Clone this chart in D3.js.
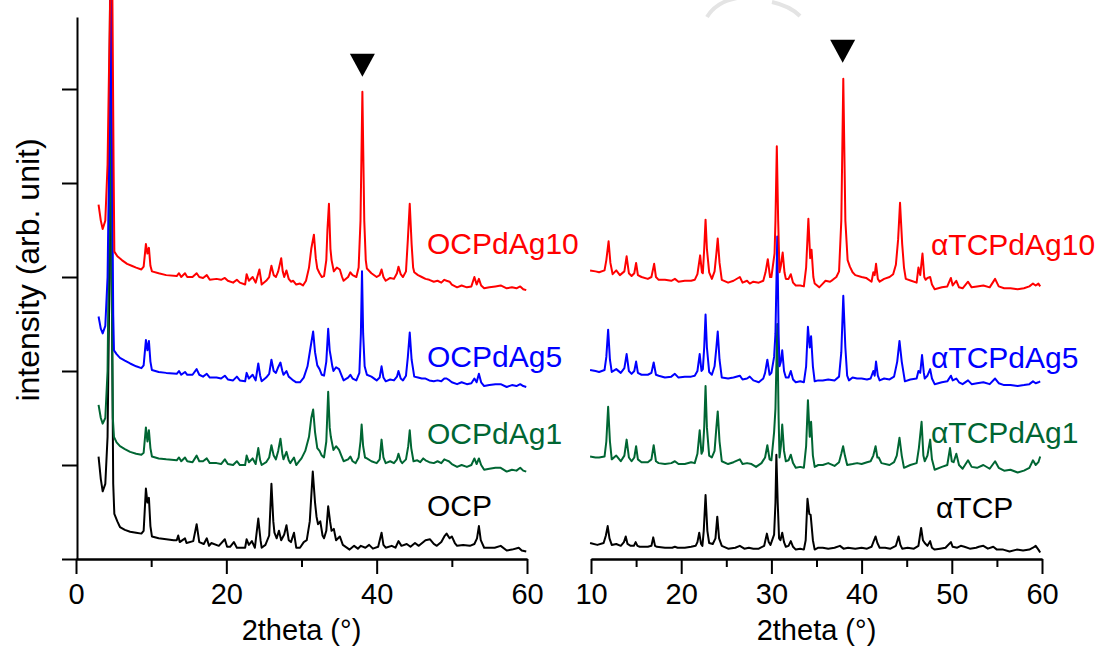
<!DOCTYPE html>
<html>
<head>
<meta charset="utf-8">
<script src="https://cdn.jsdelivr.net/npm/d3@7"></script>
<style>
  html, body { margin: 0; padding: 0; background: #fff; }
  svg { display: block; }
  text { font-family: "Liberation Sans", Arial, sans-serif; }
</style>
</head>
<body>
<svg id="chart" width="1104" height="647"></svg>
<script>
// ---------------- DATA (2theta in degrees, intensity in arb. units, stacked as displayed) ----------------
const seriesNamesLeft = ["OCP", "OCPdAg1", "OCPdAg5", "OCPdAg10"];
const seriesNamesRight = ["αTCP", "αTCPdAg1", "αTCPdAg5", "αTCPdAg10"];

const OCP = [[3.0,109],[3.3,85],[3.55,72],[3.9,80],[4.2,130],[4.45,300],[4.6,650],[4.75,300],[4.95,80],[5.1,48],[5.5,40],[5.85,34],[6.5,31],[7.2,29],[8.0,28],[8.7,27],[9.0,30],[9.3,75],[9.5,60],[9.7,65],[9.9,35],[10.1,24],[11,22],[12,21],[13.0,20],[13.4,20],[13.6,25],[13.8,18],[14.5,22],[14.7,17],[15.6,19],[16.05,37],[16.4,18],[17.0,16],[17.4,22],[17.7,14],[18.0,17],[19.0,14],[19.8,21],[20.1,13],[20.5,13],[21.0,18],[21.4,12],[22.5,12],[22.7,21],[23.0,15],[23.4,19],[23.8,12],[24.25,43],[24.55,20],[24.7,12],[25.2,15],[25.7,25],[26.0,80],[26.25,40],[26.4,28],[26.7,22],[27.0,30],[27.3,20],[27.7,26],[28.0,36],[28.3,20],[28.6,18],[29.0,28],[29.3,12],[29.8,12],[30.3,18],[30.7,20],[31.1,40],[31.5,93],[31.8,60],[32.0,45],[32.2,37],[32.5,40],[32.8,25],[33.0,22],[33.3,30],[33.55,56],[33.8,40],[34.0,30],[34.3,32],[34.6,20],[35.1,24],[35.5,15],[36.4,10],[37.0,14],[37.5,11],[37.9,14],[38.5,12],[39.0,15],[39.5,11],[40.2,13],[40.65,28],[40.9,15],[41.2,12],[42.0,14],[42.5,12],[42.9,19],[43.3,14],[44.0,16],[44.5,13],[45.1,17],[45.6,14],[46.5,20],[47.1,21],[47.6,16],[48.0,14],[48.6,18],[49.0,24],[49.3,27],[49.7,22],[50.0,24],[50.4,17],[50.7,14],[51.5,15],[52.4,14],[53.0,16],[53.35,22],[53.6,35],[53.85,20],[54.3,12],[55.0,12],[55.7,12],[56.5,14],[57.3,9],[58.0,10],[58.9,12],[59.3,9],[59.9,8]];

const OCPdAg1 = [[3.0,164],[3.3,150],[3.55,144],[3.9,150],[4.2,200],[4.4,350],[4.55,650],[4.7,350],[4.9,150],[5.05,130],[5.4,124],[5.85,120],[6.5,117],[7.2,114],[8.0,112],[8.7,111],[9.0,113],[9.3,140],[9.5,125],[9.7,137],[9.9,118],[10.1,109],[11,107],[12,106],[13.4,105],[13.7,108],[14.0,104],[14.5,108],[14.8,104],[15.5,103],[16.05,110],[16.4,104],[16.9,104],[17.4,107],[17.8,102],[18.7,102],[19.3,101],[19.8,106],[20.2,101],[20.9,100],[21.4,104],[21.8,100],[22.5,100],[22.7,110],[23.0,103],[23.5,107],[23.9,101],[24.25,118],[24.5,105],[24.7,100],[25.3,103],[25.7,108],[26.0,121],[26.3,110],[26.6,106],[26.9,115],[27.2,128],[27.45,112],[27.6,106],[28.0,114],[28.3,105],[28.5,102],[29.0,108],[29.3,100],[29.7,104],[30.0,107],[30.5,115],[31.0,130],[31.3,150],[31.55,159],[31.8,135],[32.1,118],[32.4,115],[32.7,110],[33.0,108],[33.3,125],[33.55,178],[33.75,140],[33.9,130],[34.1,122],[34.25,116],[34.6,120],[35.0,116],[35.3,110],[35.6,104],[36.2,106],[36.5,109],[36.8,104],[37.2,102],[37.6,108],[37.85,125],[38.0,143],[38.2,120],[38.45,108],[38.7,107],[39.3,104],[40.0,102],[40.4,106],[40.65,127],[40.9,108],[41.2,102],[41.8,104],[42.3,102],[42.7,106],[42.9,112],[43.2,104],[43.4,102],[43.9,106],[44.2,120],[44.4,137],[44.6,118],[44.9,104],[45.4,105],[45.8,103],[46.2,107],[46.5,105],[47.0,103],[47.6,102],[48.1,104],[48.6,102],[49.0,106],[49.3,105],[49.6,104],[50.0,101],[50.7,98],[51.3,100],[52.0,98],[52.6,100],[53.0,107],[53.3,101],[53.6,107],[53.9,100],[54.3,95],[55.0,96],[55.8,97],[56.5,97],[57.3,93],[58.0,95],[58.6,94],[59.1,97],[59.5,94],[59.9,93]];

const OCPdAg5 = [[3.0,258],[3.3,245],[3.55,240],[3.9,248],[4.2,300],[4.4,420],[4.6,650],[4.8,420],[4.95,260],[5.05,222],[5.4,218],[5.85,214],[6.5,211],[7.2,208],[8.0,205],[8.7,203],[9.0,206],[9.3,233],[9.5,222],[9.7,232],[9.9,210],[10.1,201],[11,199],[12,198],[13.4,197],[13.7,200],[14.0,196],[14.5,199],[14.8,196],[15.5,196],[16.05,202],[16.4,196],[16.9,194],[17.4,197],[17.8,193],[18.7,193],[19.3,192],[19.8,195],[20.2,191],[20.9,190],[21.4,194],[21.8,190],[22.5,189],[22.7,198],[23.0,192],[23.5,196],[23.9,190],[24.25,208],[24.5,195],[24.7,189],[25.3,193],[25.7,197],[26.0,212],[26.3,200],[26.6,198],[26.9,204],[27.2,209],[27.45,200],[27.6,196],[28.0,200],[28.3,194],[28.6,192],[28.9,190],[29.3,188],[29.8,188],[30.3,193],[30.8,205],[31.2,225],[31.55,242],[31.8,220],[32.1,206],[32.4,202],[32.7,196],[33.0,195],[33.3,210],[33.55,245],[33.75,222],[33.9,215],[34.1,205],[34.25,200],[34.6,204],[35.0,202],[35.3,196],[35.6,190],[36.2,193],[36.5,196],[36.8,192],[37.3,190],[37.7,198],[37.9,240],[38.05,306],[38.2,240],[38.4,205],[38.7,196],[39.3,194],[40.0,190],[40.4,193],[40.65,205],[40.9,193],[41.2,189],[41.8,191],[42.3,190],[42.7,194],[42.9,200],[43.2,192],[43.5,190],[43.9,195],[44.15,215],[44.4,241],[44.65,212],[45.0,194],[45.5,193],[46.0,192],[46.5,192],[47.0,190],[47.6,189],[48.1,190],[48.6,189],[49.0,192],[49.3,192],[49.7,190],[50.0,188],[50.7,186],[51.3,188],[52.0,186],[52.6,187],[53.0,192],[53.3,188],[53.6,197],[53.9,188],[54.3,184],[55.0,185],[55.8,186],[56.5,186],[57.3,183],[58.0,185],[58.6,184],[59.1,186],[59.5,184],[59.9,183]];

const OCPdAg10 = [[3.0,377],[3.3,360],[3.55,351],[3.9,360],[4.2,420],[4.45,550],[4.75,700],[5.0,420],[5.1,327],[5.5,322],[6.1,318],[6.8,314],[7.4,312],[8.0,310],[8.7,308],[9.0,311],[9.3,335],[9.5,325],[9.7,331],[9.9,312],[10.1,306],[11,304],[12,302],[13.4,301],[13.7,304],[14.0,300],[14.5,304],[14.8,300],[15.5,300],[16.05,304],[16.4,300],[16.9,299],[17.4,302],[17.8,297],[18.7,298],[19.3,297],[19.8,299],[20.2,296],[20.9,294],[21.4,297],[21.8,294],[22.5,292],[22.7,303],[23.0,296],[23.5,300],[23.9,294],[24.4,308],[24.6,298],[24.7,292],[25.3,296],[25.7,300],[26.0,312],[26.3,302],[26.6,300],[26.9,306],[27.3,320],[27.5,306],[27.7,300],[28.0,307],[28.3,298],[28.6,295],[28.9,296],[29.3,292],[29.8,293],[30.2,291],[30.6,296],[31.0,310],[31.3,330],[31.65,345],[31.9,320],[32.1,309],[32.4,304],[32.7,300],[33.0,301],[33.3,318],[33.45,350],[33.65,378],[33.85,330],[34.0,318],[34.3,306],[34.7,310],[35.1,308],[35.4,300],[35.6,296],[36.2,300],[36.5,305],[36.8,302],[37.3,300],[37.6,310],[37.85,360],[38.1,497],[38.35,360],[38.55,318],[38.7,309],[39.3,304],[40.0,300],[40.4,302],[40.65,308],[40.9,300],[41.2,296],[41.8,299],[42.3,298],[42.7,304],[42.9,311],[43.2,303],[43.5,300],[43.9,306],[44.15,340],[44.4,378],[44.65,335],[44.85,310],[45.0,305],[45.5,302],[46.0,300],[46.5,298],[47.0,297],[47.6,295],[48.1,296],[48.6,294],[49.0,297],[49.3,296],[49.7,295],[50.0,292],[50.7,289],[51.3,291],[52.0,289],[52.6,290],[53.0,300],[53.3,292],[53.6,298],[53.9,291],[54.3,288],[55.0,289],[55.8,290],[56.5,291],[57.3,288],[58.0,289],[58.6,288],[59.1,290],[59.5,287],[59.9,286]];

const aTCP = [[9.9,17],[10.7,15],[11.4,17],[11.65,25],[11.85,35],[12.05,22],[12.3,15],[12.8,16],[13.3,14],[13.65,18],[13.85,24],[14.05,16],[14.4,14],[14.75,14],[14.95,18],[15.15,14],[15.4,13],[16.3,13],[16.7,14],[16.9,23],[17.1,14],[17.3,13],[18.2,12],[19.0,12],[19.3,13],[19.6,12],[20.4,12],[21.1,13],[21.6,14],[21.8,18],[22.0,28],[22.2,16],[22.35,14],[22.5,30],[22.7,68],[22.9,30],[23.1,17],[23.5,16],[23.8,22],[24.0,45],[24.2,22],[24.5,14],[25.2,11],[26.0,12],[26.5,14],[27.0,11],[27.5,12],[28.0,11],[28.6,11],[29.2,14],[29.5,27],[29.7,18],[29.9,15],[30.3,26],[30.45,60],[30.55,111],[30.7,60],[30.85,22],[31.0,20],[31.2,28],[31.4,18],[31.6,13],[31.9,14],[32.15,19],[32.4,13],[32.7,10],[33.2,11],[33.6,10],[33.8,20],[34.0,64],[34.2,48],[34.35,47],[34.6,20],[34.8,10],[35.2,12],[35.7,12],[36.3,11],[37.0,12],[37.6,14],[38.0,11],[38.5,12],[39.3,11],[40.0,12],[40.6,11],[41.1,13],[41.3,18],[41.55,24],[41.75,17],[42.0,12],[42.6,12],[43.2,11],[43.8,14],[44.1,24],[44.3,15],[44.5,11],[45.1,12],[45.8,11],[46.3,14],[46.6,33],[46.8,20],[47.0,17],[47.3,14],[47.6,19],[47.8,12],[48.1,10],[48.7,11],[49.3,12],[49.9,18],[50.1,13],[50.6,12],[51.0,14],[51.4,13],[52.0,11],[52.7,12],[53.0,13],[53.5,14],[54.0,11],[54.6,13],[55.0,10],[55.7,10],[56.4,8],[57.2,10],[57.9,9],[58.6,10],[59.0,12],[59.3,14],[59.6,10],[59.8,7]];

const aTCPdAg1 = [[9.9,109],[10.5,108],[10.9,108],[11.5,109],[11.7,125],[11.9,162],[12.1,125],[12.3,106],[12.8,110],[13.3,104],[13.7,110],[13.95,127],[14.2,108],[14.5,104],[14.8,108],[15.0,120],[15.2,106],[15.6,103],[16.3,103],[16.7,106],[16.95,121],[17.2,104],[17.5,102],[18.2,101],[18.9,102],[19.3,104],[19.7,101],[20.4,101],[21.1,103],[21.5,102],[21.8,112],[22.05,137],[22.25,112],[22.4,115],[22.55,140],[22.7,184],[22.85,140],[23.1,110],[23.4,108],[23.7,115],[23.9,140],[24.05,157],[24.25,125],[24.5,104],[25.2,101],[25.8,103],[26.5,106],[26.8,101],[27.3,102],[27.8,101],[28.3,98],[28.9,102],[29.3,108],[29.55,121],[29.8,106],[30.0,105],[30.3,135],[30.45,160],[30.65,250],[30.8,150],[30.9,108],[31.05,120],[31.2,143],[31.4,115],[31.6,104],[31.9,105],[32.15,111],[32.4,102],[32.7,97],[33.2,98],[33.6,97],[33.85,120],[34.05,169],[34.25,130],[34.4,146],[34.6,110],[34.8,98],[35.2,100],[35.7,100],[36.3,102],[37.0,99],[37.5,103],[37.75,112],[37.95,120],[38.15,110],[38.4,100],[39.0,101],[39.5,102],[40.0,101],[40.6,103],[41.0,104],[41.3,110],[41.55,120],[41.75,108],[41.9,108],[42.2,102],[43.1,100],[43.6,103],[43.9,110],[44.2,129],[44.45,110],[44.7,97],[45.4,100],[46.1,102],[46.35,118],[46.65,146],[46.85,110],[47.0,104],[47.3,110],[47.6,127],[47.8,106],[48.1,95],[48.9,98],[49.5,100],[49.8,118],[50.0,104],[50.2,103],[50.5,112],[50.8,100],[51.2,96],[51.8,105],[52.2,98],[52.8,97],[53.5,100],[54.2,96],[54.8,104],[55.2,97],[55.8,94],[56.5,95],[57.3,92],[58.0,94],[58.6,97],[59.0,105],[59.3,100],[59.6,103],[59.8,109]];

const aTCPdAg5 = [[9.9,201],[10.5,200],[10.9,199],[11.5,201],[11.7,215],[11.9,244],[12.1,212],[12.3,199],[12.8,202],[13.3,198],[13.7,203],[13.95,218],[14.2,200],[14.5,197],[14.8,200],[15.0,210],[15.2,198],[15.6,196],[16.3,196],[16.7,198],[16.95,209],[17.2,196],[17.5,195],[18.2,193],[18.9,194],[19.3,197],[19.7,193],[20.4,194],[21.1,194],[21.5,195],[21.8,200],[22.05,218],[22.25,200],[22.4,202],[22.55,225],[22.7,260],[22.85,225],[23.1,199],[23.4,196],[23.7,205],[23.9,225],[24.05,242],[24.25,212],[24.5,193],[25.2,192],[25.8,193],[26.5,195],[26.8,191],[27.3,192],[27.6,194],[28.0,190],[28.6,188],[29.1,192],[29.3,198],[29.55,212],[29.8,196],[30.0,198],[30.3,215],[30.45,240],[30.65,343],[30.8,240],[30.9,205],[31.05,210],[31.2,222],[31.4,200],[31.6,193],[31.9,193],[32.15,200],[32.4,191],[32.7,188],[33.2,189],[33.6,188],[33.85,205],[34.05,247],[34.25,225],[34.4,237],[34.6,205],[34.8,189],[35.2,190],[35.7,190],[36.3,191],[37.0,190],[37.5,194],[37.75,220],[37.97,280],[38.2,225],[38.4,195],[38.6,190],[39.0,193],[39.5,192],[40.0,192],[40.6,191],[41.0,192],[41.3,200],[41.45,195],[41.6,210],[41.8,195],[42.0,190],[42.5,192],[43.1,191],[43.6,194],[43.95,210],[44.2,232],[44.45,210],[44.8,189],[45.4,191],[46.1,192],[46.3,200],[46.5,198],[46.7,217],[46.9,198],[47.0,192],[47.3,195],[47.6,202],[47.8,192],[48.1,186],[48.9,188],[49.5,189],[49.9,195],[50.1,190],[50.5,192],[50.8,188],[51.2,186],[51.8,190],[52.2,186],[52.8,187],[53.5,188],[54.2,186],[54.8,192],[55.2,187],[55.8,185],[56.5,185],[57.3,184],[58.0,185],[58.6,186],[59.0,189],[59.3,187],[59.6,188],[59.8,189]];

const aTCPdAg10 = [[9.9,307],[10.5,306],[10.9,305],[11.5,307],[11.7,318],[11.95,338],[12.15,315],[12.4,303],[12.8,307],[13.2,302],[13.7,306],[13.95,322],[14.2,304],[14.5,301],[14.8,304],[15.0,315],[15.2,302],[15.6,300],[16.3,298],[16.7,300],[17.0,314],[17.2,300],[17.5,297],[18.2,297],[18.9,296],[19.3,298],[19.7,295],[20.4,296],[21.1,296],[21.5,297],[21.8,303],[22.1,323],[22.3,305],[22.4,304],[22.55,330],[22.7,361],[22.85,330],[23.1,305],[23.4,298],[23.7,306],[23.9,325],[24.05,341],[24.25,315],[24.5,297],[25.2,294],[25.8,296],[26.5,300],[26.8,294],[27.3,296],[27.6,293],[28.0,295],[28.6,294],[29.1,296],[29.35,305],[29.6,319],[29.85,300],[30.0,300],[30.25,318],[30.35,325],[30.45,360],[30.6,439],[30.75,360],[30.9,305],[31.05,312],[31.25,326],[31.45,305],[31.6,298],[31.9,298],[32.15,303],[32.4,294],[32.7,291],[33.2,291],[33.6,290],[33.85,310],[34.1,362],[34.3,320],[34.45,329],[34.65,300],[34.8,293],[35.3,289],[35.7,293],[36.0,296],[36.5,295],[36.8,297],[37.2,300],[37.5,306],[37.75,360],[37.97,511],[38.2,360],[38.45,318],[38.7,311],[39.0,305],[39.3,302],[40.0,300],[40.5,299],[41.1,295],[41.3,305],[41.45,302],[41.6,314],[41.8,298],[42.0,295],[42.5,298],[43.1,300],[43.5,303],[43.8,313],[44.05,340],[44.26,379],[44.5,335],[44.7,310],[44.9,298],[45.5,296],[46.1,294],[46.3,310],[46.5,302],[46.75,325],[46.95,300],[47.1,297],[47.3,299],[47.6,300],[47.8,292],[48.1,287],[48.9,289],[49.5,290],[49.9,299],[50.1,291],[50.5,296],[50.8,289],[51.2,288],[51.8,295],[52.2,289],[52.8,290],[53.5,291],[54.2,289],[54.8,298],[55.2,290],[55.8,288],[56.5,288],[57.3,287],[58.0,288],[58.6,290],[59.0,293],[59.3,291],[59.6,293],[59.8,290]];

// Ag peak markers (2theta, intensity of triangle tip)
const markerLeft = [38.1, 513];
const markerRight = [37.9, 528];

// tick values
const leftMajorTicks = [0, 20, 40, 60];
const leftMinorTicks = [10, 30, 50];
const rightMajorTicks = [10, 20, 30, 40, 50, 60];
const rightMinorTicks = [15, 25, 35, 45, 55];
const yTicks = [0, 100, 200, 300, 400, 500];

// ---------------- LAYOUT / STYLE ----------------
const colors = ["#000000", "#006633", "#0000ff", "#ff0000"];
const svg = d3.select("#chart");
const FONT = '"Liberation Sans", Arial, sans-serif';

const xL = d3.scaleLinear().domain([0, 60]).range([76, 527]);
const xR = d3.scaleLinear().domain([10, 60]).range([591, 1042]);
const y = d3.scaleLinear().domain([0, 576.6]).range([559, 17]);

function styleAxis(g) {
  g.selectAll(".domain").attr("stroke", "#000").attr("stroke-width", 2);
  g.selectAll(".tick line").attr("stroke", "#000").attr("stroke-width", 2);
  g.selectAll(".tick text").attr("font-family", FONT).attr("font-size", 29).attr("fill", "#000");
}

// faint watermark fragment at the top edge
svg.append("path")
  .attr("d", "M707,17 Q716,2 737,-2 M772,2 Q790,6 800,16")
  .attr("fill", "none").attr("stroke", "#e4e4e4").attr("stroke-width", 4);

// curves
const line = (xs) => d3.line().x(d => xs(d[0])).y(d => y(d[1]));
const leftSeries = [OCP, OCPdAg1, OCPdAg5, OCPdAg10];
const rightSeries = [aTCP, aTCPdAg1, aTCPdAg5, aTCPdAg10];

leftSeries.forEach((s, i) => {
  svg.append("path").datum(s).attr("d", line(xL))
    .attr("fill", "none").attr("stroke", colors[i]).attr("stroke-width", 2)
    .attr("stroke-linejoin", "round");
});
rightSeries.forEach((s, i) => {
  svg.append("path").datum(s).attr("d", line(xR))
    .attr("fill", "none").attr("stroke", colors[i]).attr("stroke-width", 2)
    .attr("stroke-linejoin", "round");
});

// axes
const gy = svg.append("g").attr("transform", `translate(${xL(0) + 1},0)`)
  .call(d3.axisLeft(y).tickValues(yTicks).tickSize(15).tickSizeOuter(0).tickFormat(""));
styleAxis(gy);

const gxL = svg.append("g").attr("transform", `translate(0,${y(0)})`)
  .call(d3.axisBottom(xL).tickValues(leftMajorTicks).tickSize(15).tickSizeOuter(0).tickPadding(9).tickFormat(d3.format("d")));
styleAxis(gxL);
const gxLm = svg.append("g").attr("transform", `translate(0,${y(0)})`)
  .call(d3.axisBottom(xL).tickValues(leftMinorTicks).tickSize(8).tickSizeOuter(0).tickFormat(""));
styleAxis(gxLm);

const gxR = svg.append("g").attr("transform", `translate(0,${y(0)})`)
  .call(d3.axisBottom(xR).tickValues(rightMajorTicks).tickSize(15).tickSizeOuter(0).tickPadding(9).tickFormat(d3.format("d")));
styleAxis(gxR);
const gxRm = svg.append("g").attr("transform", `translate(0,${y(0)})`)
  .call(d3.axisBottom(xR).tickValues(rightMinorTicks).tickSize(8).tickSizeOuter(0).tickFormat(""));
styleAxis(gxRm);

// axis titles
svg.append("text").attr("x", (xL(0) + xL(60)) / 2).attr("y", 640)
  .attr("text-anchor", "middle").attr("font-size", 29).attr("font-family", FONT).text("2theta (°)");
svg.append("text").attr("x", (xR(10) + xR(60)) / 2).attr("y", 640)
  .attr("text-anchor", "middle").attr("font-size", 29).attr("font-family", FONT).text("2theta (°)");
svg.append("text").attr("transform", "translate(39,270) rotate(-90)")
  .attr("text-anchor", "middle").attr("font-size", 32).attr("font-family", FONT).text("intensity (arb. unit)");

// series labels
const leftLabelY = [516, 444, 367, 254];
const rightLabelY = [518, 443, 368, 255];
seriesNamesLeft.forEach((n, i) => {
  svg.append("text").attr("x", 427).attr("y", leftLabelY[i]).attr("font-size", 30)
    .attr("font-family", FONT).attr("fill", colors[i]).text(n);
});
seriesNamesRight.forEach((n, i) => {
  svg.append("text").attr("x", i === 0 ? 936 : 931).attr("y", rightLabelY[i]).attr("font-size", 30)
    .attr("font-family", FONT).attr("fill", colors[i]).text(n);
});

// triangle markers
function tri(px, py) {
  return `M${px},${py} L${px - 12.5},${py - 23} L${px + 12.5},${py - 23} Z`;
}
svg.append("path").attr("d", tri(xL(markerLeft[0]), y(markerLeft[1]))).attr("fill", "#000");
svg.append("path").attr("d", tri(xR(markerRight[0]), y(markerRight[1]))).attr("fill", "#000");
</script>
</body>
</html>
